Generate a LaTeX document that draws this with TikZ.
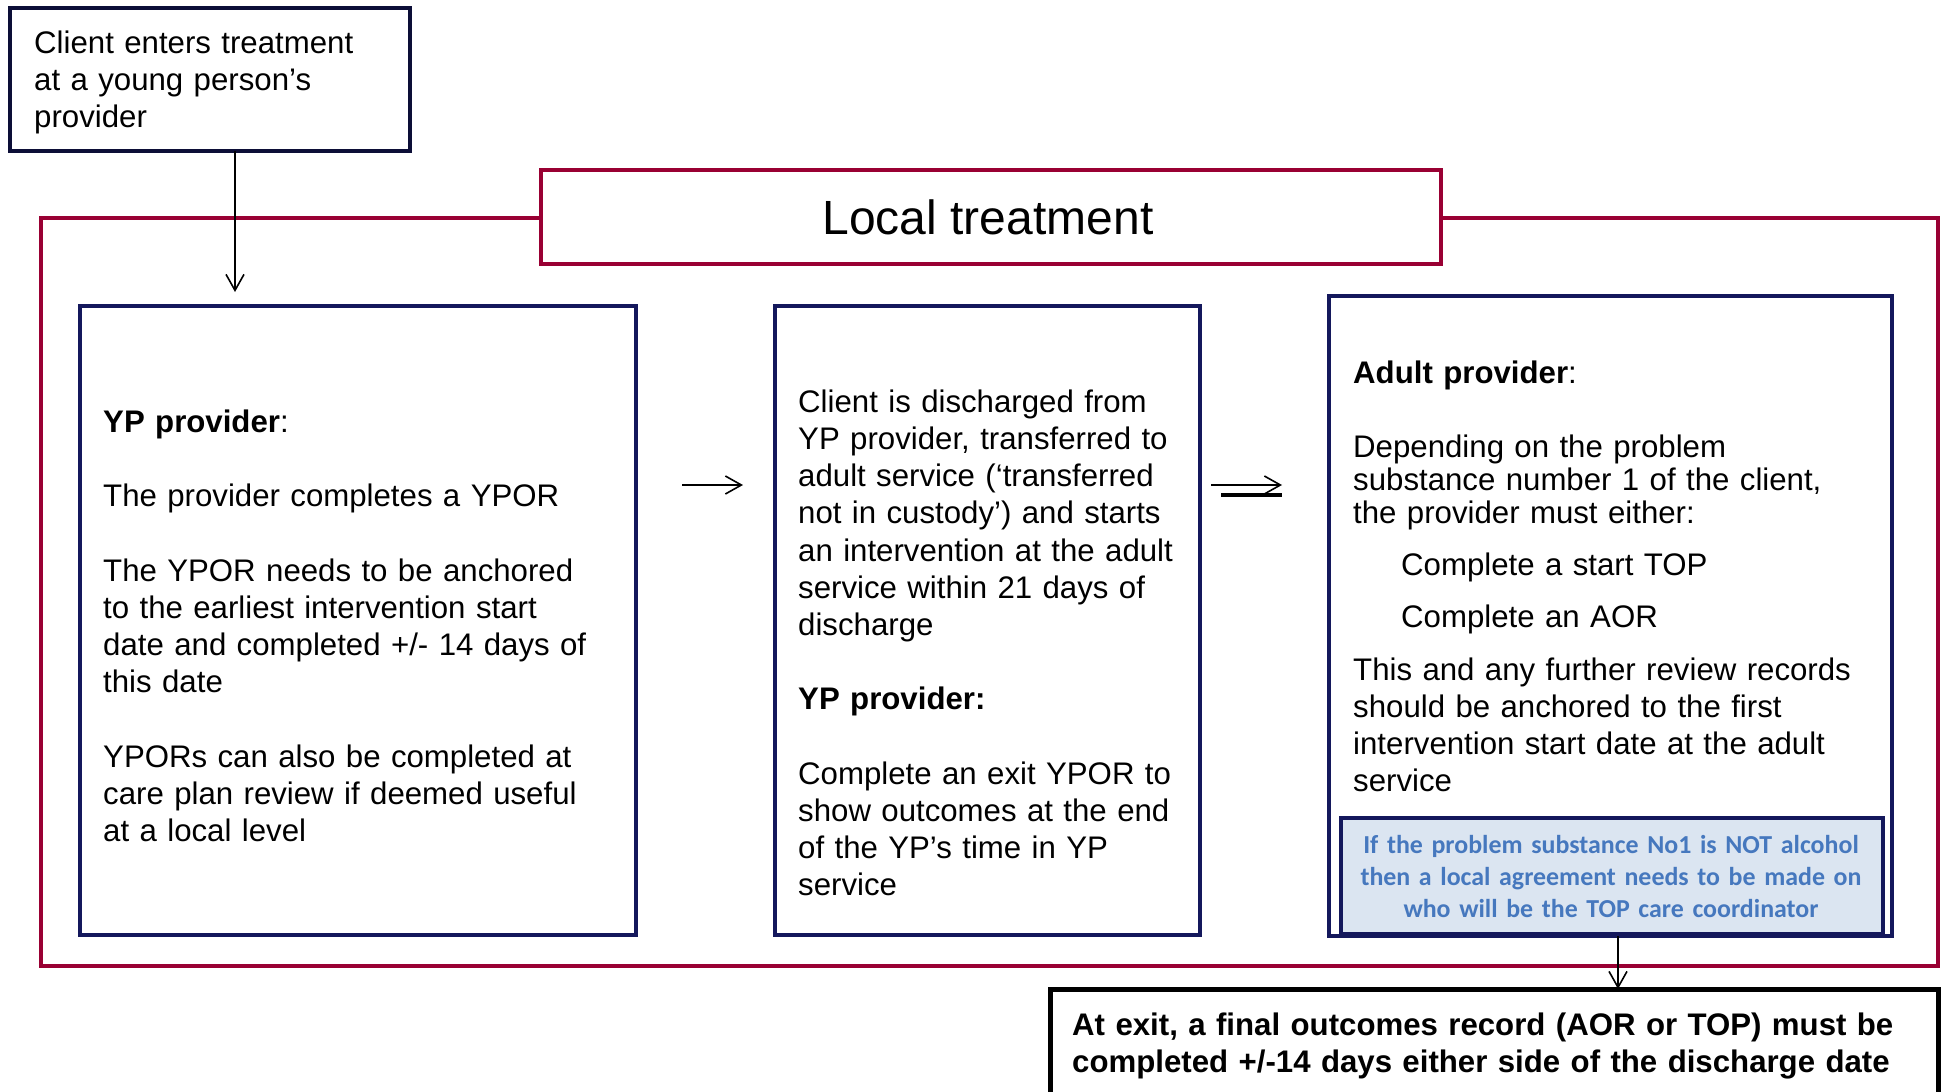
\documentclass[tikz,border=0pt]{standalone}
\usepackage{fontspec}
\setmainfont{Liberation Sans}
\newfontfamily\notefont{Carlito}
\usetikzlibrary{arrows.meta}
\definecolor{navy}{RGB}{20,24,92}
\definecolor{crimson}{RGB}{153,0,51}
\definecolor{notefill}{RGB}{219,229,241}
\definecolor{notetext}{RGB}{70,120,190}
\begin{document}
\begin{tikzpicture}[x=1pt,y=-1pt,
  navybox/.style={draw=navy, line width=4.5pt, rectangle, inner sep=0pt, outer sep=0pt},
  redbox/.style={draw=crimson, fill=white, line width=4.5pt, rectangle, inner sep=0pt, outer sep=0pt},
  blackbox/.style={draw=black, fill=white, line width=5pt, rectangle, inner sep=0pt, outer sep=0pt},
  body/.style={font=\fontsize{31.2}{37.2}\selectfont, inner sep=0pt, anchor=north west, align=left, text width=#1},
  tight/.style={font=\fontsize{31.2}{33}\selectfont, inner sep=0pt, anchor=north west, align=left, text width=#1},
  notestyle/.style={font=\notefont\bfseries\fontsize{25.9}{32.2}\selectfont, text=notetext, inner sep=0pt, anchor=north, align=center, text width=#1},
  arr/.style={line width=1.6pt, -{Straight Barb[length=16pt,width=18pt,line width=1.6pt]}},
]
\useasboundingbox (0,0) rectangle (1941,1092);
\clip (0,0) rectangle (1941,1092);

% outer local-treatment frame
\draw[crimson, line width=4.5pt] (41,218) rectangle (1938,966);
\node[redbox, minimum width=900pt, minimum height=94pt] (local) at (991,217) {};
\node[font=\fontsize{48}{56}\selectfont, inner sep=0pt, anchor=base] (localtxt) at (988,234) {Local treatment};

% start box
\node[navybox, draw=navy!60!black, minimum width=400pt, minimum height=143pt] (start) at (210,79.5) {};
\node[body=380pt] (starttxt) at (34,27) {\strut Client enters treatment\\ at a young person’s\\ provider};

% three boxes
\node[navybox, minimum width=556pt, minimum height=629pt] (box1) at (358,620.5) {};
\node[navybox, minimum width=425pt, minimum height=629pt] (box2) at (987.5,620.5) {};
\node[draw=navy, fill=notefill, line width=4.5pt, rectangle, inner sep=0pt, outer sep=0pt, minimum width=542pt, minimum height=116pt] (note) at (1612,876) {};
\node[navybox, minimum width=563pt, minimum height=640pt] (box3) at (1610.5,616) {};

% box 1 text
\node[body=540pt] (t1) at (103,406) {\strut\textbf{YP provider}:\\[37.2pt]
The provider completes a YPOR\\[37.2pt]
The YPOR needs to be anchored\\ to the earliest intervention start\\ date and completed +/- 14 days of\\ this date\\[37.2pt]
YPORs can also be completed at\\ care plan review if deemed useful\\ at a local level};

% box 2 text
\node[body=420pt] (t2) at (798,386) {\strut Client is discharged from\\ YP provider, transferred to\\ adult service (‘transferred\\ not in custody’) and starts\\ an intervention at the adult\\ service within 21 days of\\ discharge\\[37.2pt]
\textbf{YP provider:}\\[37.2pt]
Complete an exit YPOR to\\ show outcomes at the end\\ of the YP’s time in YP\\ service};

% box 3 text
\node[body=520pt] (t3a) at (1353,357) {\strut\textbf{Adult provider}:};
\node[tight=520pt] (t3b) at (1353,434) {\strut Depending on the problem\\ substance number 1 of the client,\\ the provider must either:};
\node[body=460pt] (t3c) at (1401,549) {\strut Complete a start TOP};
\node[body=460pt] (t3d) at (1401,601) {\strut Complete an AOR};
\node[body=530pt] (t3e) at (1353,654) {\strut This and any further review records\\ should be anchored to the first\\ intervention start date at the adult\\ service};

\node[notestyle=540pt] (notetxt) at (1611,830.5) {\strut If the problem substance No1 is NOT alcohol\\ then a local agreement needs to be made on\\ who will be the TOP care coordinator};

% exit box
\node[blackbox, minimum width=888pt, minimum height=141pt] (exit) at (1494,1059.5) {};
\node[body=870pt, font=\bfseries\fontsize{31.2}{37}\selectfont] (exittxt) at (1072,1009) {\strut At exit, a final outcomes record (AOR or TOP) must be\\ completed +/-14 days either side of the discharge date};

% connectors
\coordinate (a0) at (235,292);
\draw[arr] (start.south -| a0) -- (a0);
\coordinate (a1s) at (682,485);
\coordinate (a1e) at (743,485);
\draw[arr] (a1s) -- (a1e);
\coordinate (a2s) at (1211,485);
\coordinate (a2e) at (1282,485);
\coordinate (a2b) at (1221,495);
\draw[arr] (a2s) -- (a2e);
\draw[line width=3.5pt] (a2b) -- (a2b -| a2e);
\coordinate (a3) at (1618,0);
\draw[arr] (box3.south -| a3) -- (exit.north -| a3);
\end{tikzpicture}
\end{document}
